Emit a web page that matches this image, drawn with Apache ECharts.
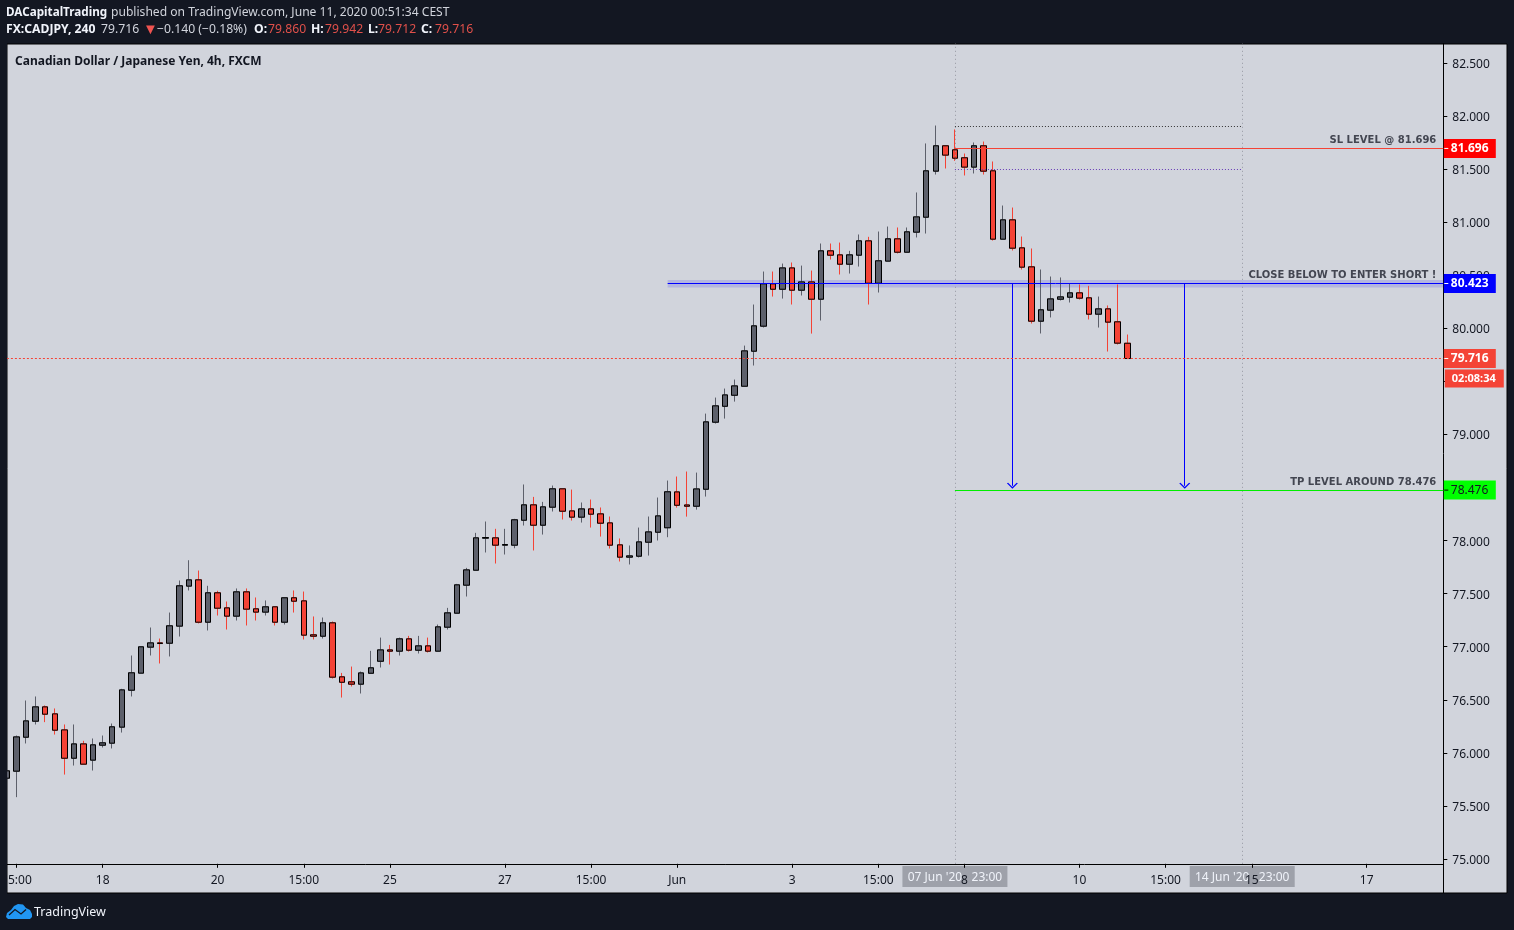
<!DOCTYPE html>
<html>
<head>
<meta charset="utf-8">
<style>html,body{margin:0;padding:0;background:#131722}#c{width:1514px;height:930px}</style>
<script src="https://cdn.jsdelivr.net/npm/echarts@6/dist/echarts.min.js"></script>
</head>
<body>
<div id="c"></div>
<script>
const opens=[75.761,75.827,76.147,76.298,76.433,76.367,76.216,75.949,76.084,75.931,76.072,76.091,76.242,76.590,76.751,76.996,77.036,77.033,77.194,77.571,77.630,77.231,77.508,77.366,77.288,77.517,77.357,77.326,77.376,77.231,77.461,77.432,77.112,77.099,77.225,76.716,76.669,76.647,76.750,76.863,76.970,76.958,77.074,76.967,77.008,76.958,77.184,77.316,77.580,77.721,78.023,78.026,77.957,77.957,78.192,78.337,78.145,78.315,78.488,78.280,78.221,78.299,78.252,78.167,77.960,77.844,77.853,77.985,78.079,78.121,78.459,78.336,78.324,78.484,79.116,79.266,79.370,79.455,79.785,80.021,80.420,80.369,80.570,80.360,80.438,80.275,80.731,80.693,80.605,80.690,80.825,80.426,80.634,80.844,80.718,80.907,81.048,81.482,81.721,81.683,81.608,81.520,81.721,81.485,80.841,81.023,80.759,80.580,80.068,80.172,80.275,80.294,80.335,80.288,80.134,80.184,80.062,79.860];
const closes=[75.830,76.150,76.301,76.433,76.364,76.213,75.949,76.084,75.893,76.075,76.094,76.245,76.593,76.754,76.999,77.036,77.030,77.197,77.574,77.630,77.231,77.508,77.363,77.288,77.517,77.354,77.326,77.376,77.231,77.461,77.429,77.109,77.099,77.225,76.713,76.665,76.647,76.753,76.801,76.970,76.958,77.074,76.967,77.008,76.958,77.187,77.319,77.583,77.724,78.026,78.029,77.957,77.963,78.196,78.337,78.145,78.318,78.488,78.277,78.221,78.299,78.249,78.164,77.957,77.844,77.856,77.988,78.082,78.233,78.460,78.333,78.324,78.487,79.119,79.270,79.373,79.458,79.788,80.024,80.420,80.369,80.570,80.360,80.438,80.275,80.731,80.690,80.605,80.693,80.825,80.426,80.637,80.844,80.718,80.910,81.051,81.485,81.721,81.633,81.604,81.520,81.721,81.482,80.841,81.023,80.756,80.577,80.068,80.175,80.278,80.297,80.335,80.285,80.134,80.184,80.059,79.861,79.716];
const lows=[75.742,75.582,76.088,76.267,76.289,76.172,75.795,75.880,75.893,75.833,76.050,76.041,76.191,76.531,76.751,76.917,76.842,76.908,77.096,77.530,77.219,77.153,77.294,77.162,77.247,77.200,77.247,77.294,77.200,77.209,77.322,77.068,77.068,77.077,76.700,76.521,76.625,76.559,76.750,76.804,76.832,76.917,76.954,76.936,76.945,76.958,77.162,77.316,77.473,77.721,77.888,77.784,77.869,77.928,78.142,77.907,78.057,78.274,78.199,78.189,78.170,78.123,78.038,77.925,77.803,77.775,77.841,77.859,78.001,78.032,78.311,78.226,78.292,78.415,79.103,79.150,79.310,79.455,79.650,80.008,80.300,80.281,80.225,80.310,79.951,80.074,80.649,80.508,80.517,80.583,80.225,80.338,80.634,80.706,80.718,80.857,80.894,81.450,81.507,81.579,81.441,81.460,81.450,80.828,80.841,80.734,80.555,80.046,79.952,80.103,80.263,80.244,80.272,80.084,80.008,79.782,79.848,79.712];
const highs=[76.000,76.163,76.493,76.531,76.446,76.418,76.267,76.267,76.113,76.135,76.163,76.276,76.603,76.917,76.999,77.181,77.077,77.322,77.624,77.815,77.718,77.574,77.527,77.426,77.549,77.549,77.464,77.436,77.376,77.461,77.530,77.520,77.285,77.275,77.238,76.753,76.813,76.766,76.961,77.086,77.017,77.086,77.102,77.102,77.086,77.209,77.366,77.592,77.743,78.073,78.180,78.111,78.111,78.205,78.529,78.412,78.365,78.519,78.488,78.481,78.359,78.387,78.312,78.227,78.020,77.954,78.123,78.227,78.406,78.566,78.604,78.651,78.641,79.197,79.348,79.433,79.518,79.838,80.225,80.536,80.536,80.611,80.621,80.592,80.545,80.800,80.800,80.809,80.731,80.885,80.863,80.913,80.960,80.951,80.951,81.281,81.743,81.912,81.721,81.875,81.648,81.752,81.761,81.573,81.158,81.139,80.866,80.753,80.555,80.489,80.480,80.423,80.414,80.401,80.300,80.216,80.414,79.942];

const slotCount=151;
const categories=Array.from({length:slotCount},(_,i)=>'bar'+i);
const tickIndex=[1,10,22,31,40,52,61,70,82,91,100,112,121,130,142];
const tickText=['15:00','18','20','15:00','25','27','15:00','Jun','3','15:00','8','10','15:00','15','17'];
const priceTicks=[75,75.5,76,76.5,77,77.5,78,78.5,79,79.5,80,80.5,81,81.5,82,82.5];
const slLevel=81.696, entryLevel=80.423, tpLevel=78.476, lastPrice=79.716;
const boxTop=81.908, boxBottom=81.498, bandTop=80.455, bandBottom=80.385;
const boxStart=99, boxEnd=129, entryStart=69, arrowA=105, arrowB=123, lastSlot=150;
const timerText='02:08:34';

const F='"Noto Sans",sans-serif';
const UP='#5d606b', DOWN='#f44336';
const c=k=>categories[k];
const ohlc=opens.map((o,i)=>[o,closes[i],lows[i],highs[i]]);
const bodies=opens.map((o,i)=>[o,closes[i],Math.min(o,closes[i]),Math.max(o,closes[i])]);
const arrowPath='path://M0,10 L5,0 L10,10 L8.9,10.8 L5,3.2 L1.1,10.8 Z';

const textLabel=t=>({show:true,position:'insideEndTop',distance:[7,3],formatter:t,fontFamily:'"DejaVu Sans",sans-serif',fontWeight:'bold',fontSize:10,color:'#434651'});
const hLine=(v,a,b,color,type,label)=>[{coord:[c(a),v],lineStyle:{color,width:1,type},label:label||{show:false}},{coord:[c(b),v]}];
const vLine=k=>[{coord:[c(k),74.954],lineStyle:{color:'#9598a1',width:1,type:[1,3]},label:{show:false}},{coord:[c(k),82.685]}];
const arrow=k=>[{coord:[c(k),entryLevel],symbol:'none',symbolSize:0,lineStyle:{color:'#0000ff',width:1,type:'solid'},label:{show:false}},
  {coord:[c(k),tpLevel+0.04],symbol:arrowPath,symbolSize:[11,6],itemStyle:{color:'#0000ff'}}];
const tag=(v,bg,fg,fw)=>({coord:[c(lastSlot),v],symbol:'rect',symbolSize:1,itemStyle:{color:'transparent'},
  label:{show:true,position:'right',distance:0,formatter:v.toFixed(3),width:38,height:13,lineHeight:13,align:'left',padding:[4,7,2,7],backgroundColor:bg,color:fg,fontWeight:fw,fontFamily:F,fontSize:12}});
const tagTick=(v,color)=>({coord:[c(lastSlot),v],symbol:'rect',symbolSize:[4,1],symbolOffset:[3,0],itemStyle:{color},label:{show:false}});

const chart=echarts.init(document.getElementById('c'),null,{renderer:'canvas'});
chart.setOption({
  animation:false,
  backgroundColor:'#131722',
  grid:{left:6.9,top:43.5,width:1436.4,height:820.3,containLabel:false,outerBoundsMode:'none'},
  xAxis:{type:'category',data:categories,boundaryGap:false,
    axisLine:{show:true,lineStyle:{color:'#000',width:1}},
    axisTick:{show:true,length:4,interval:(i)=>tickIndex.includes(i),lineStyle:{color:'#000'}},
    axisLabel:{show:true,interval:(i)=>tickIndex.includes(i),formatter:(v,i)=>tickText[tickIndex.indexOf(i)]||'',color:'#131722',fontFamily:F,fontSize:12,margin:11,hideOverlap:false},
    splitLine:{show:false}},
  yAxis:{type:'value',position:'right',min:74.954,max:82.685,scale:true,
    axisLine:{show:true,onZero:false,lineStyle:{color:'#000',width:1}},
    axisTick:{show:true,length:4,customValues:priceTicks,lineStyle:{color:'#000'}},
    axisLabel:{show:true,customValues:priceTicks,formatter:v=>'{v|'+v.toFixed(3)+'}',margin:9,showMinLabel:true,showMaxLabel:true,
      rich:{v:{color:'#131722',fontFamily:F,fontSize:12,padding:[3,0,0,0]}}},
    splitLine:{show:false}},
  series:[
    {type:'line',name:'drawings',z:1,data:[],showSymbol:false,
      markArea:{silent:true,itemStyle:{color:'#3030f0',opacity:0.18},label:{show:false},
        data:[[{coord:[c(entryStart),bandTop]},{coord:[c(lastSlot),bandBottom]}]]},
      markLine:{silent:true,symbol:'none',animation:false,precision:3,
        data:[
          vLine(boxStart),vLine(boxEnd),
          hLine(boxTop,boxStart,boxEnd,'#333',[1,2]),
          hLine(boxBottom,boxStart,boxEnd,'#673ab7',[1,2]),
          hLine(slLevel,boxStart,lastSlot,'#f44336','solid',textLabel('SL LEVEL @ 81.696')),
          hLine(entryLevel,entryStart,lastSlot,'#0000ff','solid',textLabel('CLOSE BELOW TO ENTER SHORT !')),
          hLine(tpLevel,boxStart,lastSlot,'#00ee00','solid',textLabel('TP LEVEL AROUND 78.476')),
          arrow(arrowA),arrow(arrowB)
        ]}},
    {type:'candlestick',name:'wicks',z:2,data:ohlc,barWidth:6,clip:true,
      itemStyle:{color:UP,color0:DOWN,borderColor:UP,borderColor0:DOWN,borderWidth:1}},
    {type:'candlestick',name:'bodies',z:3,data:bodies,barWidth:6,clip:true,
      itemStyle:{color:UP,color0:DOWN,borderColor:'#000',borderColor0:'#000',borderColorDoji:'#000',borderWidth:1},
      markLine:{silent:true,symbol:'none',animation:false,
        data:[hLine(lastPrice,0,lastSlot,'#f44336',[2,2])]},
      markPoint:{silent:true,animation:false,z:6,
        data:[
          tag(slLevel,'#ff0000','#fff','bold'),
          tag(entryLevel,'#0000ff','#fff','bold'),
          tag(lastPrice,'#f44336','#fff','bold'),
          tag(tpLevel,'#00ff00','#131722','normal'),
          {coord:[c(lastSlot),lastPrice],symbol:'rect',symbolSize:1,itemStyle:{color:'transparent'},
            label:{show:true,position:'right',distance:0,offset:[1,20],formatter:timerText,width:45,height:12,lineHeight:12,align:'left',padding:[4,7,2,7],backgroundColor:'#f44336',color:'#fff',fontWeight:'bold',fontFamily:F,fontSize:11}}
        ]}},
    {type:'line',name:'tagTicks',z:8,data:[],showSymbol:false,
      markPoint:{silent:true,animation:false,z:8,
        data:[tagTick(slLevel,'#fff'),tagTick(entryLevel,'#fff'),tagTick(lastPrice,'#fff'),tagTick(tpLevel,'#000')]}}
  ]
});

const px=k=>chart.convertToPixel({xAxisIndex:0},c(k));
const dateTag=(k,t)=>[
  {type:'rect',z:-1,silent:true,shape:{x:px(k)-52.5,y:866,width:105,height:21},style:{fill:'#9ea1aa'}},
  {type:'text',z:-1,silent:true,style:{x:px(k),y:877.5,text:t,align:'center',verticalAlign:'middle',fill:'#f0f3fa',font:'12px '+F}}
];
const headerRow2=[[6,'FX:CADJPY, 240','b'],[101,'79.716','n'],[143,'▼','a'],[157,'−0.140 (−0.18%)','n'],[254,'O:','b'],[268,'79.860','r'],[311,'H:','b'],[325,'79.942','r'],[368,'L:','b'],[378,'79.712','r'],[421,'C:','b'],[435,'79.716','r']];
const headerStyle={b:['bold 12.2px '+F,'#f0f3fa'],n:['12.2px '+F,'#d1d4dc'],r:['12.2px '+F,'#e0504a'],a:['15px '+F,'#ef5350']};
chart.setOption({graphic:{elements:[
  {type:'rect',z:-2,silent:true,shape:{x:7,y:44,width:1500,height:849},style:{fill:'#d1d4dc',stroke:'#000',lineWidth:1}},
  {type:'line',z:-1,silent:true,shape:{x1:1443.5,y1:864,x2:1443.5,y2:893},style:{stroke:'#000',lineWidth:1}},
  ...dateTag(boxStart,"07 Jun '20   23:00"),
  ...dateTag(boxEnd,"14 Jun '20   23:00"),
  {type:'rect',z:100,silent:true,shape:{x:0,y:40,width:7,height:856},style:{fill:'#131722'}},
  {type:'text',z:100,silent:true,style:{x:6,y:13,verticalAlign:'middle',text:'DACapitalTrading',font:'bold 11.7px '+F,fill:'#f0f3fa'}},
  {type:'text',z:100,silent:true,style:{x:111,y:13,verticalAlign:'middle',text:'published on TradingView.com, June 11, 2020 00:51:34 CEST',font:'12.1px '+F,fill:'#d1d4dc'}},
  ...headerRow2.map(([x,t,s])=>({type:'text',z:100,silent:true,style:{x,y:30,verticalAlign:'middle',text:t,font:headerStyle[s][0],fill:headerStyle[s][1]}})),
  {type:'text',z:100,silent:true,style:{x:15,y:61.5,verticalAlign:'middle',text:'Canadian Dollar / Japanese Yen, 4h, FXCM',font:'bold 12px '+F,fill:'#131722'}},
  {type:'polygon',z:100,silent:true,shape:{points:[[6,917],[7,913],[11,910],[14,906],[18,904],[23,904.5],[26,908],[30,910],[32,914],[32,917],[30,919],[8,919]]},style:{fill:'#2196f3'}},
  {type:'polyline',z:100,silent:true,shape:{points:[[9,915],[15,909.5],[21,914],[26,909.5]]},style:{stroke:'#131722',lineWidth:1.3,fill:'none'}},
  {type:'text',z:100,silent:true,style:{x:34,y:912.5,verticalAlign:'middle',text:'TradingView',font:'12.5px '+F,fill:'#f0f3fa'}}
]}});
</script>
</body>
</html>
